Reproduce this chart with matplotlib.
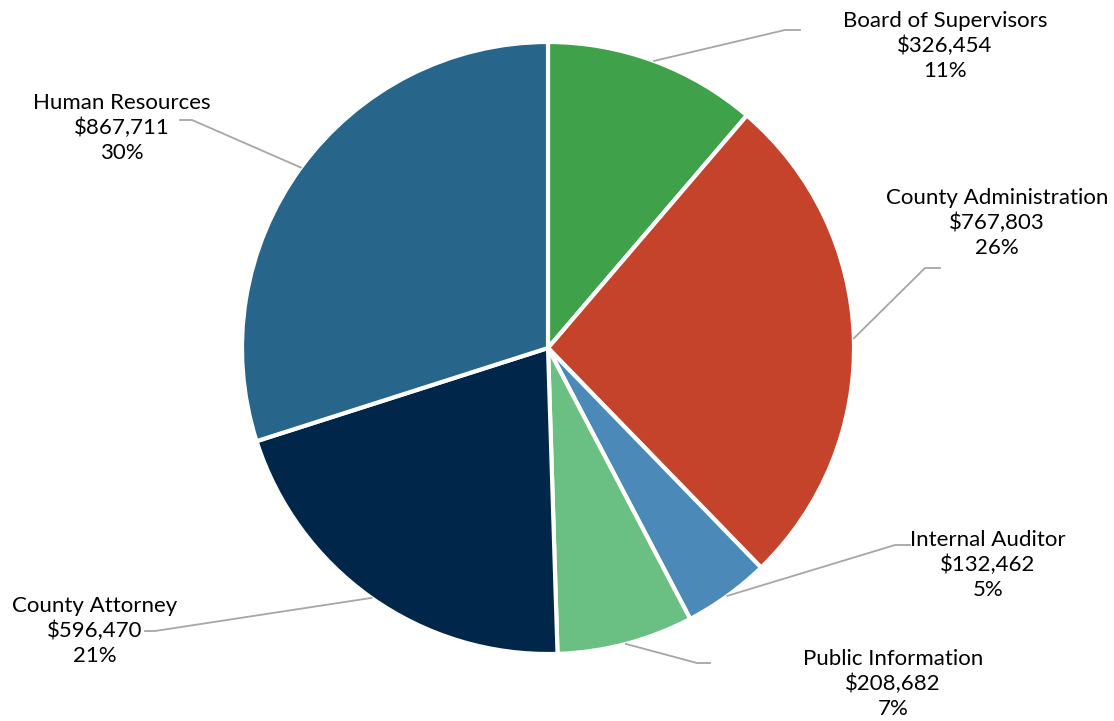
import numpy as np
import matplotlib
matplotlib.use("Agg")
import matplotlib.pyplot as plt

# budget by department
departments = ["Board of Supervisors", "County Administration", "Internal Auditor",
               "Public Information", "County Attorney", "Human Resources"]
amounts = [326454, 767803, 132462, 208682, 596470, 867711]
percents = ["11%", "26%", "5%", "7%", "21%", "30%"]
colors = ["#3fa14a", "#c4432a", "#4a89b8", "#6abf83", "#00264a", "#27668a"]

plt.rcParams["font.family"] = ["Lato", "DejaVu Sans"]

W, H = 1114, 721
cx, cy, R = 548, 348, 306  # pie centre and radius in pixels

fig = plt.figure(figsize=(W / 100, H / 100), dpi=100)
ax = fig.add_axes([0, 0, 1, 1])

wedges, _ = ax.pie(amounts, colors=colors, startangle=90, counterclock=False,
                   radius=1, wedgeprops=dict(edgecolor="white", linewidth=3))

ax.set_xlim(-cx / R, (W - cx) / R)
ax.set_ylim(-(H - cy) / R, cy / R)
ax.set_aspect("equal")
ax.axis("off")

def px(x, y):
    return (x - cx) / R, (cy - y) / R

# label text centre and leader elbow (pixels), one per slice
text_pos = [(945, 46), (997, 223), (988, 565), (893, 684), (95, 631), (122, 128)]
elbow = [((785, 30), (800, 30)), ((925, 268), (940, 268)), ((895, 545), (910, 545)),
         ((697, 663), (710, 663)), ((155, 631), (145, 631)), ((192, 120), (180, 120))]

for i, w in enumerate(wedges):
    ang = np.deg2rad((w.theta1 + w.theta2) / 2)
    sx, sy = np.cos(ang), np.sin(ang)
    e1 = px(*elbow[i][0])
    e2 = px(*elbow[i][1])
    ax.plot([sx, e1[0], e2[0]], [sy, e1[1], e2[1]], color="#a6a6a6", lw=1.3)
    tx, ty = px(*text_pos[i])
    label = f"{departments[i]}\n${amounts[i]:,}\n{percents[i]}"
    ax.text(tx, ty, label, ha="center", va="center", fontsize=16,
            color="#000000", linespacing=1.3)

fig.savefig("out.png", dpi=100)
